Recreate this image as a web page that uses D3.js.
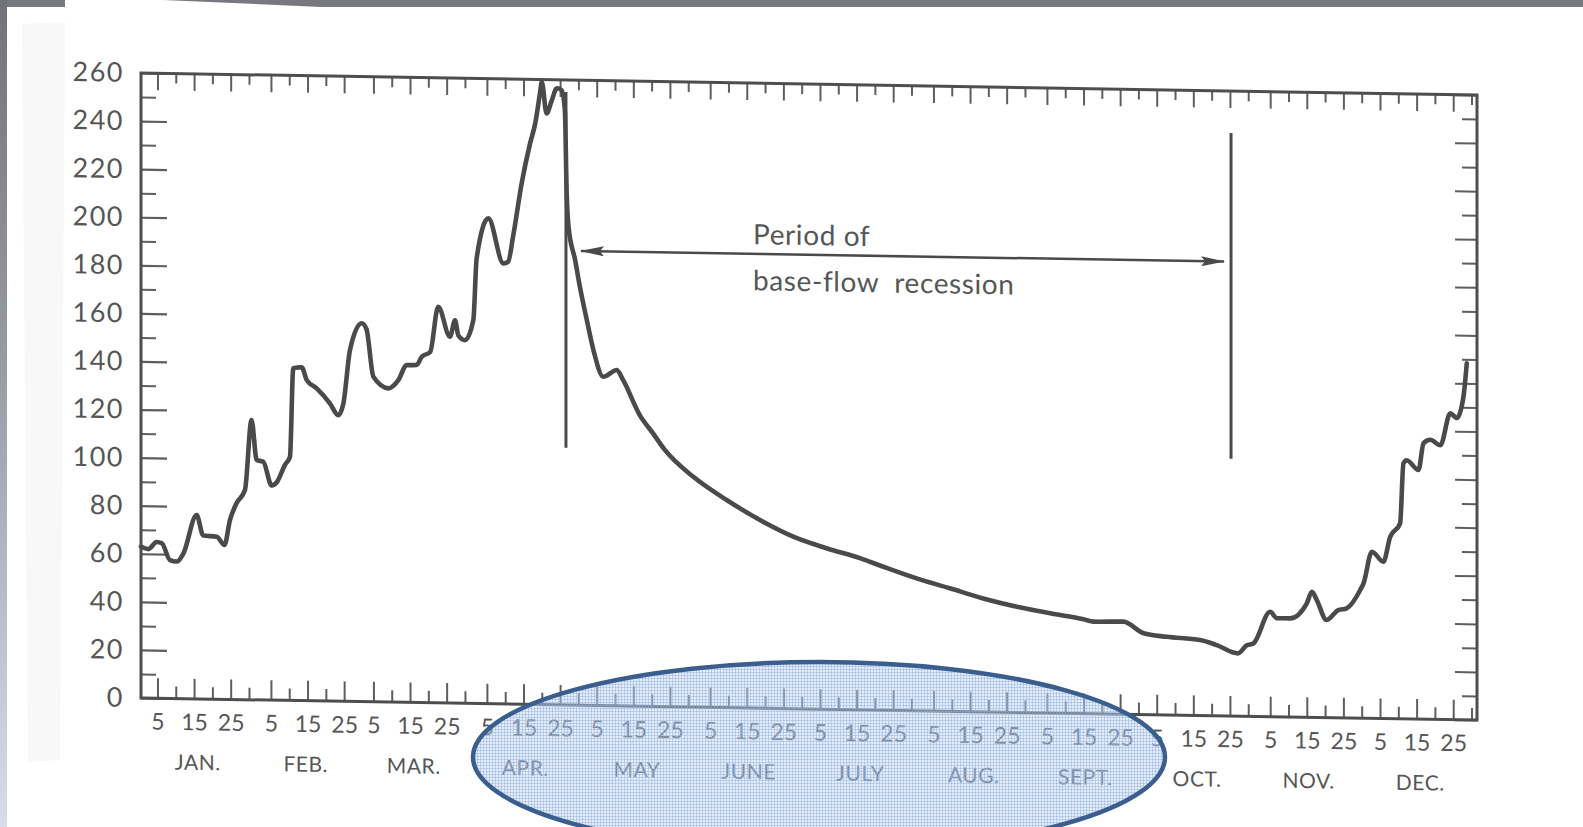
<!DOCTYPE html>
<html>
<head>
<meta charset="utf-8">
<script src="https://cdn.jsdelivr.net/npm/d3@7"></script>
<style>
  html, body { margin: 0; padding: 0; background: #ffffff; overflow: hidden; }
  svg { display: block; }
  text { font-family: Lato, "Open Sans", sans-serif; fill: #565656; }
</style>
</head>
<body>
<svg id="chart" width="1583" height="827"></svg>
<script>
// Daily streamflow hydrograph for one year (day of year, discharge)
const flowDays = [0, 2, 4.3, 5.7, 7.9, 9.8, 11.6, 15.2, 17, 20.7, 22.8, 24.3, 26.1, 28.4, 30.2, 31.6, 33.4, 35.7, 37.1, 39.3,
  40.7, 41.6, 43.9, 45.3, 48, 51.6, 53.9, 55.3, 57.1, 60.3, 61.6, 63.5, 67.6, 70.3, 72.6, 75.3, 76.7, 79, 81.2, 84.4,
  85.8, 86.7, 88.5, 90.8, 91.7, 94.9, 99, 100.3, 101.7, 104, 106.3, 107.7, 109, 109.5, 110.8, 112.2, 113.6, 114.9, 115.8, 116.3,
  116.8, 118.6, 119.9, 121.8, 123.6, 126.3, 130, 131.7, 136.3, 139.9, 143, 150.9, 160, 169.1, 178.2, 187.3, 196.4, 202.8, 211.9, 221,
  230.1, 239.3, 248.4, 257.5, 260.2, 268.4, 273.9, 280.2, 289.3, 293.9, 299.7, 302.1, 303.9, 308.5, 310.3, 313.9, 318.5, 319.9, 321.2, 323.9,
  327.1, 329.4, 333.1, 334, 336.3, 339.4, 341.3, 344, 344.9, 345.8, 349, 350.4, 352.2, 355, 357.7, 359.5, 361.3, 362.2];
const flowValues = [63, 62, 65, 64.5, 57.6, 57, 60.5, 76.5, 68, 67.6, 64.2, 74.6, 81.7, 87.2, 116.4, 99.8, 99.1, 89.3, 90.7, 97.9,
  101.4, 138.2, 138.7, 133.4, 130, 123.9, 119, 124, 146.2, 157.4, 155, 135.2, 130.5, 134, 140.3, 140.4, 143.9, 145.9, 164.8, 152.4,
  159.3, 153, 151.1, 159.5, 185.2, 201.9, 183.3, 184, 195, 216.7, 233.4, 241.7, 254.3, 259, 246, 251.3, 256.5, 255.8, 247.5, 212.9,
  199, 185.2, 174.1, 160.3, 147.9, 136.8, 139.7, 135.6, 121, 113.6, 107, 95.8, 86.4, 78.3, 71.6, 67, 63.1, 59.7, 55.1, 51.2,
  47.2, 44, 41.5, 39.2, 38.3, 38.5, 33.8, 32.5, 31.4, 29.4, 26.1, 29.5, 30.3, 43.6, 41, 41, 47.4, 52.2, 48.9, 40.6,
  44.8, 45.6, 53.3, 56.1, 69.3, 65.2, 75.7, 81.3, 106.3, 107.6, 103.6, 114.8, 116.3, 114.1, 127.4, 125.5, 134.4, 148.3];

// Calendar
const monthNames = ["JAN.", "FEB.", "MAR.", "APR.", "MAY", "JUNE", "JULY", "AUG.", "SEPT.", "OCT.", "NOV.", "DEC."];
const monthLengths = [31, 28, 31, 30, 31, 30, 31, 31, 30, 31, 30, 31];
const labelledDays = [5, 15, 25];
const minorDays = [10, 20, 30];

// Discharge axis
const yMajorTicks = [0, 20, 40, 60, 80, 100, 120, 140, 160, 180, 200, 220, 240, 260];
const yMinorTicks = [10, 30, 50, 70, 90, 110, 130, 150, 170, 190, 210, 230, 250];

// Base-flow recession period (start day, end day) and marker extents
const recessionDays = [116.1, 297.8];
const markerLow = 107;
const markerHigh = [255, 242.5];
const arrowSpan = [120.2, 295.9];
const arrowLevel = 189;
const annotationLines = ["Period of", "base-flow  recession"];

const svg = d3.select("#chart");
const W = 1583, H = 827;

// Page edges
const defs = svg.append("defs");
const edgeGrad = defs.append("linearGradient").attr("id", "edgeGrad")
  .attr("x1", 0).attr("y1", 0).attr("x2", 0).attr("y2", 1);
edgeGrad.append("stop").attr("offset", 0).attr("stop-color", "#727378");
edgeGrad.append("stop").attr("offset", 0.45).attr("stop-color", "#9a9ca6");
edgeGrad.append("stop").attr("offset", 1).attr("stop-color", "#d7dde9");

svg.append("rect").attr("x", 0).attr("y", 0).attr("width", W).attr("height", 7).attr("fill", "#78797e");
svg.append("polygon").attr("points", "65,0 163,0 333,7.5 65,7.5").attr("fill", "#ffffff");
svg.append("rect").attr("x", 0).attr("y", 0).attr("width", 7).attr("height", H).attr("fill", "url(#edgeGrad)");
svg.append("polygon").attr("points", "22,24 65,22 60,760 28,762").attr("fill", "#f8f8f8");

// Scales
const x = d3.scaleLinear().domain([0, 365]).range([141, 1477]);
const y = d3.scaleLinear().domain([0, 260]).range([698, 73]);

// The printed figure sits on a slight slant
const k = 0.0165;
const plot = svg.append("g")
  .attr("transform", `matrix(1,${k},0,1,0,${-k * x.range()[0]})`);

// Tick days along the year
const monthStarts = d3.cumsum([0].concat(monthLengths.slice(0, 11)));
const majorTickDays = [], minorTickDays = [], majorTickText = new Map();
monthStarts.forEach((s, i) => {
  labelledDays.forEach(d => {
    const v = s + d - 0.5;
    majorTickDays.push(v);
    majorTickText.set(v, String(d));
  });
  minorDays.forEach(d => { if (d <= monthLengths[i]) minorTickDays.push(s + d - 0.5); });
});

const tickColor = "#5e5e5e";
function styleAxis(g, w) {
  g.select(".domain").remove();
  g.selectAll(".tick line").attr("stroke", tickColor).attr("stroke-width", w);
  g.selectAll(".tick text").attr("fill", "#565656").style("font-family", "Lato, sans-serif");
}

// Left axis
plot.append("g").attr("transform", `translate(${x.range()[0]},0)`)
  .call(d3.axisLeft(y).tickValues(yMajorTicks).tickSizeInner(-26).tickSizeOuter(0).tickPadding(17))
  .call(g => styleAxis(g, 2.2))
  .call(g => g.selectAll(".tick text").attr("font-size", 27).attr("letter-spacing", 1.5));
plot.append("g").attr("transform", `translate(${x.range()[0]},0)`)
  .call(d3.axisLeft(y).tickValues(yMinorTicks).tickSizeInner(-15).tickSizeOuter(0).tickFormat(""))
  .call(g => styleAxis(g, 2));

// Right axis
plot.append("g").attr("transform", `translate(${x.range()[1]},0)`)
  .call(d3.axisRight(y).tickValues(yMajorTicks).tickSizeInner(-22).tickSizeOuter(0).tickFormat(""))
  .call(g => styleAxis(g, 2));
plot.append("g").attr("transform", `translate(${x.range()[1]},0)`)
  .call(d3.axisRight(y).tickValues(yMinorTicks).tickSizeInner(-15).tickSizeOuter(0).tickFormat(""))
  .call(g => styleAxis(g, 2));

// Bottom axis
plot.append("g").attr("transform", `translate(0,${y(0)})`)
  .call(d3.axisBottom(x).tickValues(majorTickDays).tickSizeInner(-20).tickSizeOuter(0).tickPadding(15)
    .tickFormat(d => majorTickText.get(d)))
  .call(g => styleAxis(g, 2))
  .call(g => g.selectAll(".tick text").attr("font-size", 23));
plot.append("g").attr("transform", `translate(0,${y(0)})`)
  .call(d3.axisBottom(x).tickValues(minorTickDays).tickSizeInner(-12).tickSizeOuter(0).tickFormat(""))
  .call(g => styleAxis(g, 2));

// Top axis
plot.append("g").attr("transform", `translate(0,${y(260)})`)
  .call(d3.axisTop(x).tickValues(majorTickDays).tickSizeInner(-17).tickSizeOuter(0).tickFormat(""))
  .call(g => styleAxis(g, 2));
plot.append("g").attr("transform", `translate(0,${y(260)})`)
  .call(d3.axisTop(x).tickValues(minorTickDays).tickSizeInner(-10).tickSizeOuter(0).tickFormat(""))
  .call(g => styleAxis(g, 2));

// Frame
plot.append("rect")
  .attr("x", x(0)).attr("y", y(260))
  .attr("width", x(365) - x(0)).attr("height", y(0) - y(260))
  .attr("fill", "none").attr("stroke", "#4e4e4e").attr("stroke-width", 3);

// Month names
plot.append("g").selectAll("text").data(monthNames).join("text")
  .attr("x", (d, i) => x(monthStarts[i] + monthLengths[i] / 2))
  .attr("y", y(0) + 71)
  .attr("text-anchor", "middle")
  .attr("font-size", 21)
  .attr("letter-spacing", 0.5)
  .text(d => d);

// Hydrograph
const flow = flowDays.map((d, i) => ({ day: d, q: flowValues[i] }));
plot.append("path")
  .datum(flow)
  .attr("fill", "none")
  .attr("stroke", "#4a4a4a")
  .attr("stroke-width", 4.6)
  .attr("stroke-linejoin", "round")
  .attr("stroke-linecap", "round")
  .attr("d", d3.line().x(d => x(d.day)).y(d => y(d.q)).curve(d3.curveMonotoneX));

// Recession markers
plot.append("g").selectAll("line").data(recessionDays).join("line")
  .attr("x1", d => x(d)).attr("x2", d => x(d))
  .attr("y1", (d, i) => y(markerHigh[i])).attr("y2", y(markerLow))
  .attr("stroke", "#4a4a4a").attr("stroke-width", 3);

// Double-headed arrow
defs.append("marker").attr("id", "head")
  .attr("viewBox", "0 0 24 10").attr("refX", 23).attr("refY", 5)
  .attr("markerWidth", 24).attr("markerHeight", 10)
  .attr("markerUnits", "userSpaceOnUse").attr("orient", "auto-start-reverse")
  .append("path").attr("d", "M0,0 L24,5 L0,10 L4,5 Z").attr("fill", "#4a4a4a");
plot.append("line")
  .attr("x1", x(arrowSpan[0])).attr("x2", x(arrowSpan[1]))
  .attr("y1", y(arrowLevel)).attr("y2", y(arrowLevel))
  .attr("stroke", "#4a4a4a").attr("stroke-width", 2.5)
  .attr("marker-start", "url(#head)").attr("marker-end", "url(#head)");

// Annotation
plot.append("g").selectAll("text").data(annotationLines).join("text")
  .attr("x", x(167.2))
  .attr("y", (d, i) => y(i === 0 ? 193 : 173.8))
  .attr("font-size", 28)
  .attr("letter-spacing", 0.6)
  .style("white-space", "pre")
  .text(d => d);

// Highlight ellipse over the summer months
const pat = defs.append("pattern").attr("id", "grid")
  .attr("width", 3).attr("height", 3).attr("patternUnits", "userSpaceOnUse");
pat.append("rect").attr("width", 3).attr("height", 3).attr("fill", "rgba(190,210,240,0.42)");
pat.append("rect").attr("width", 3).attr("height", 1).attr("fill", "rgba(140,175,226,0.45)");
pat.append("rect").attr("width", 1).attr("height", 3).attr("fill", "rgba(140,175,226,0.45)");

svg.append("ellipse")
  .attr("cx", 819).attr("cy", 757).attr("rx", 346).attr("ry", 95)
  .attr("fill", "url(#grid)")
  .attr("stroke", "#3a5e8e").attr("stroke-width", 4.5);
</script>
</body>
</html>
